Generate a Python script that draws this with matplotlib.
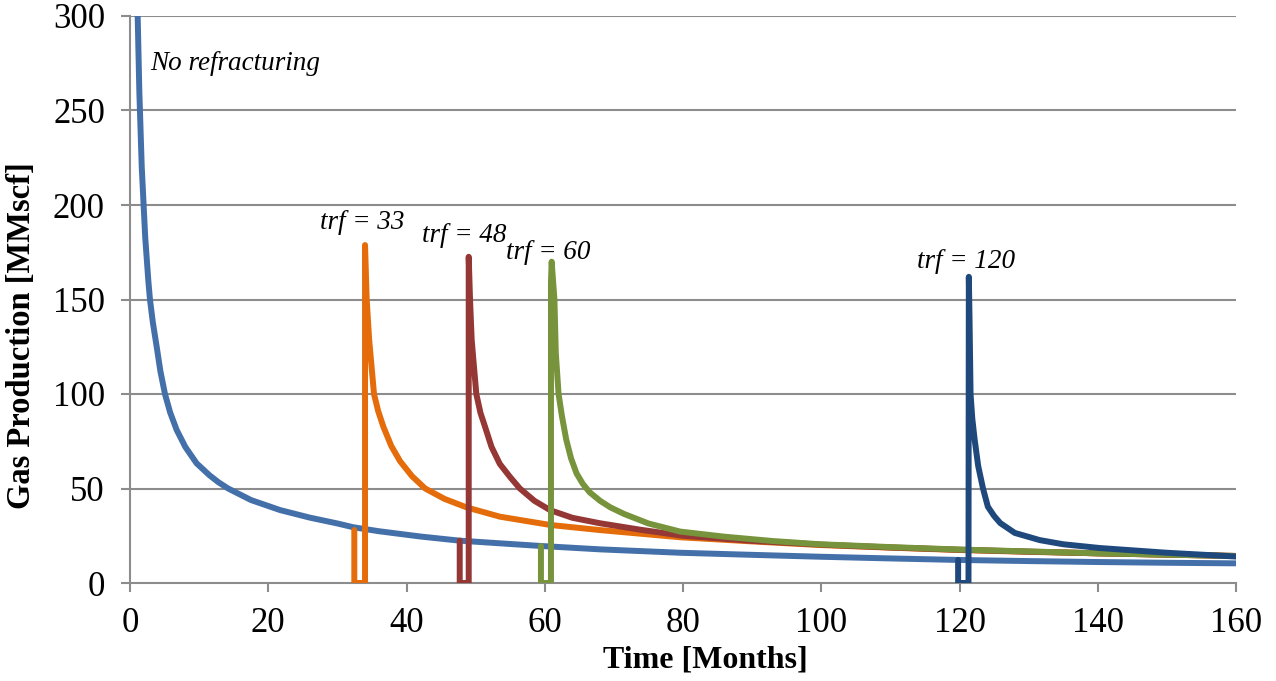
import matplotlib
matplotlib.use("Agg")
import matplotlib.pyplot as plt

plt.rcParams['font.family'] = ['Liberation Serif', 'DejaVu Serif']

# Base case: no refracturing
t_base = [1.0, 1.11, 1.35, 1.7, 2.2, 2.65, 2.89, 3.3, 3.86, 4.4, 5.06, 5.8, 6.75, 8.0,
          9.64, 11.5, 12.8, 14.2, 17.5, 21.7, 26.0, 30.0, 32.3, 36.0, 39.0, 42.0, 47.7,
          53.5, 59.4, 68.0, 79.6, 90.0, 99.8, 110.0, 119.8, 130.0, 140.0, 150.0, 160.0]
q_base = [318, 300, 260, 220, 183, 160, 150, 138, 125, 112, 100, 90.3, 81, 72,
          63.3, 57.0, 53.3, 50, 43.9, 38.6, 34.6, 31.5, 29.5, 27.4, 26.0, 24.6, 22.4,
          21.0, 19.6, 17.8, 16.0, 14.9, 13.9, 13.0, 12.2, 11.6, 11.1, 10.7, 10.4]

# Refracture at 33 months
t_33 = [32.45, 32.45, 34.0, 34.0, 34.24, 34.6, 35.3, 35.9, 36.65, 37.8, 39.06, 40.8,
        42.7, 45.5, 48.7, 53.5, 60.8, 68.0, 79.6, 90.0, 99.8, 110.0, 119.6, 130.0,
        140.0, 150.0, 160.0]
q_33 = [28.0, 0, 0, 178.8, 150, 128.6, 100, 91, 82.7, 72.5, 64.5, 56.5,
        50, 44.5, 40.0, 35.1, 30.7, 28.0, 24.2, 22.0, 20.1, 18.7, 17.5, 16.5,
        15.7, 15.0, 14.3]

# Refracture at 48 months
t_48 = [47.7, 47.7, 49.0, 49.0, 49.19, 49.43, 50.1, 50.7, 51.36, 52.3, 53.5, 55.0,
        56.4, 58.5, 60.8, 64.0, 68.0, 73.8, 80.0, 90.0, 100.0, 110.0, 120.0, 130.0,
        140.0, 150.0, 160.0]
q_48 = [22.4, 0, 0, 172.6, 150, 128.6, 100, 90, 82.7, 72, 63, 56,
        50, 43.5, 38.5, 34.5, 31.6, 28.2, 25.0, 22.3, 20.3, 18.8, 17.6, 16.6,
        15.7, 15.0, 14.3]

# Refracture at 60 months
t_60 = [59.45, 59.45, 60.9, 60.9, 61.0, 61.4, 61.6, 62.0, 62.5, 63.1, 63.8, 64.6,
        65.5, 66.5, 68.0, 69.5, 71.5, 75.0, 79.6, 86.0, 93.0, 99.8, 110.0, 120.0,
        140.0, 160.0]
q_60 = [19.6, 0, 0, 159, 170, 150, 121.6, 100, 88, 76, 66, 58,
        52.5, 48, 43.5, 40, 36.5, 31.5, 27.2, 24.5, 22.2, 20.5, 19.0, 17.7,
        15.7, 14.3]

# Refracture at 120 months
t_120 = [119.8, 119.8, 121.3, 121.35, 121.45, 121.6, 121.85, 122.2, 122.7, 123.4,
         124.1, 125.0, 125.9, 128.0, 131.6, 135.0, 140.3, 150.0, 160.0]
q_120 = [12.2, 0, 0, 162, 140, 100, 87, 75.6, 62, 50,
         40.4, 35.5, 31.7, 26.5, 22.7, 20.5, 18.5, 16.0, 14.0]

labels = ["No refracturing", "trf = 33", "trf = 48", "trf = 60", "trf = 120"]
label_pos = [(2.9, 275), (33.6, 191), (48.3, 184), (60.5, 175), (121.0, 170)]

x_ticks = [0, 20, 40, 60, 80, 100, 120, 140, 160]
y_ticks = [0, 50, 100, 150, 200, 250, 300]

fig = plt.figure(figsize=(12.76, 6.81), dpi=100)
ax = fig.add_axes([130/1276, 1-583/681, 1106/1276, 567/681])

grid_c = '#8c8c8c'
for yv in y_ticks[1:]:
    ax.axhline(yv, color=grid_c, lw=1.5, zorder=1)

lw = 4.3
kw = dict(lw=lw, solid_joinstyle='round', solid_capstyle='round')
ax.plot(t_base, q_base, color='#4470AA', zorder=3, **kw)
ax.plot(t_33, q_33, color='#E46C0A', zorder=4, **kw)
ax.plot(t_48, q_48, color='#953735', zorder=5, **kw)
ax.plot(t_60, q_60, color='#77933C', zorder=6, **kw)
ax.plot(t_120, q_120, color='#1F497D', zorder=7, **kw)

for (txt, (xx, yy)) in zip(labels, label_pos):
    ha = 'left' if txt == "No refracturing" else 'center'
    ax.text(xx, yy, txt, fontsize=19.5, style='italic', ha=ha, va='center', zorder=8)

ax.set_xlim(0, 160)
ax.set_ylim(0, 300)
ax.set_xticks(x_ticks)
ax.set_yticks(y_ticks)
ax.tick_params(axis='both', labelsize=25, color=grid_c, length=6.5, width=1.5,
               direction='out')
ax.tick_params(axis='y', pad=11.5)
ax.tick_params(axis='x', pad=11)
for s in ['top', 'right']:
    ax.spines[s].set_visible(False)
for s in ['left', 'bottom']:
    ax.spines[s].set_color(grid_c)
    ax.spines[s].set_linewidth(1.5)

ax.set_xlabel("Time [Months]", fontsize=23, fontweight='bold')
ax.set_ylabel("Gas Production [MMscf]", fontsize=23.5, fontweight='bold')
ax.xaxis.set_label_coords(0.52, -0.136)
ax.yaxis.set_label_coords(-0.0977, 0.437)
ax.xaxis.label.set_va('center')
ax.yaxis.label.set_va('center')

fig.savefig("out.png", dpi=100)
